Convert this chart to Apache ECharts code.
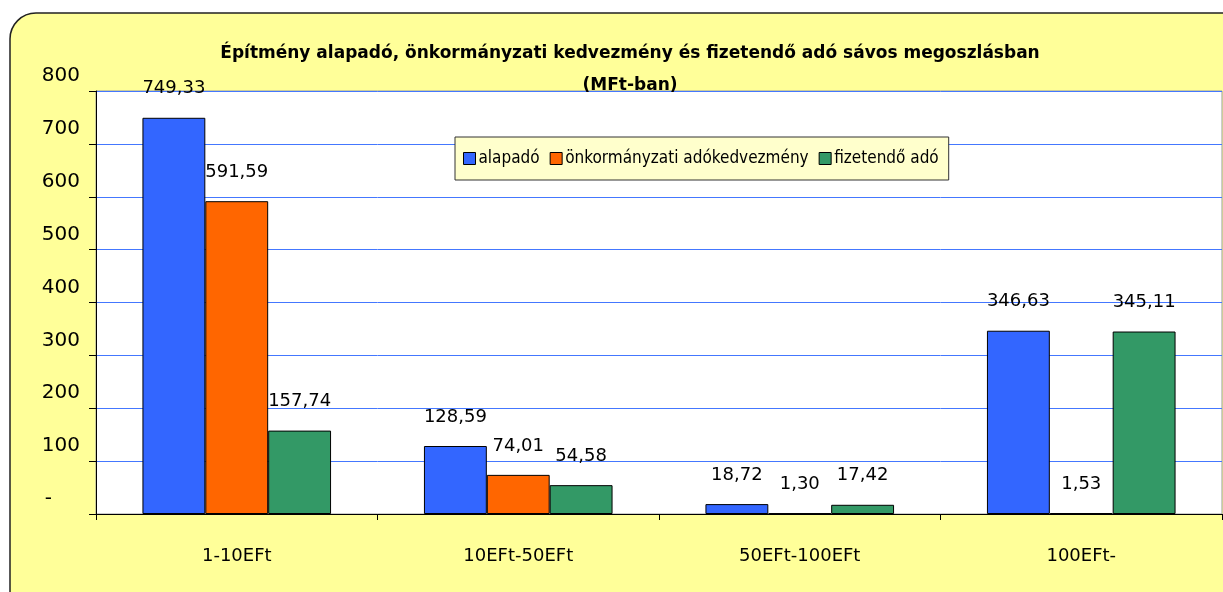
<!DOCTYPE html>
<html>
<head>
<meta charset="utf-8">
<script src="https://cdn.jsdelivr.net/npm/echarts@6/dist/echarts.min.js"></script>
<style>
  html, body { margin: 0; padding: 0; background: #fff; }
  #chart { width: 1223px; height: 592px; }
</style>
</head>
<body>
<div id="chart"></div>
<script>
// adatok
const categories = ["1-10EFt", "10EFt-50EFt", "50EFt-100EFt", "100EFt-"];
const alapado = [749.33, 128.59, 18.72, 346.63];
const kedvezmeny = [591.59, 74.01, 1.30, 1.53];
const fizetendo = [157.74, 54.58, 17.42, 345.11];
const yTicks = [0, 100, 200, 300, 400, 500, 600, 700, 800];

const FONT = "'DejaVu Sans', sans-serif";
const NARROW = "'DejaVu Sans Condensed', 'Liberation Sans Narrow', sans-serif";

const chart = echarts.init(document.getElementById("chart"));

const fmt = (v) => v.toFixed(2).replace(".", ",");

const barSeries = (name, data, color) => ({
  name,
  type: "bar",
  data,
  barGap: "0%",
  barCategoryGap: "33%",
  itemStyle: { color, borderColor: "#000", borderWidth: 1 },
  label: {
    show: true,
    position: "top",
    distance: 20,
    color: "#000",
    fontFamily: FONT,
    fontSize: 18,
    formatter: (p) => fmt(p.value),
  },
});

const options = {
  backgroundColor: "#fff",
  animation: false,
  graphic: [
    {
      type: "rect",
      z: -10,
      shape: { x: 10, y: 13, width: 1240, height: 610, r: 26 },
      style: { fill: "#FFFF99", stroke: "#222", lineWidth: 1.5 },
    },
  ],
  title: {
    text: "Építmény alapadó, önkormányzati kedvezmény és fizetendő adó sávos megoszlásban\n(MFt-ban)",
    left: 625,
    textAlign: "center",
    top: 33,
    textStyle: {
      fontFamily: FONT,
      fontSize: 17,
      fontWeight: "bold",
      color: "#000",
      lineHeight: 32,
    },
  },
  legend: {
    left: 455,
    top: 137,
    orient: "horizontal",
    backgroundColor: "#FFFFCC",
    borderColor: "#333",
    borderWidth: 1,
    padding: [13, 10, 13, 8],
    itemGap: 10,
    itemWidth: 12,
    itemHeight: 12,
    icon: "rect",
    textStyle: { fontFamily: NARROW, fontSize: 17, color: "#000", padding: [0, 0, 0, -2] },
    itemStyle: { borderColor: "#000", borderWidth: 1 },
  },
  grid: {
    left: 96,
    top: 91,
    right: 1,
    bottom: 78,
    show: true,
    backgroundColor: "#fff",
    borderColor: "#999",
    borderWidth: 1,
  },
  xAxis: {
    type: "category",
    data: categories,
    axisLine: { lineStyle: { color: "#000", width: 1 } },
    axisTick: { show: true, length: 6, lineStyle: { color: "#000" } },
    axisLabel: { margin: 33, fontFamily: FONT, fontSize: 18, color: "#000" },
  },
  yAxis: {
    type: "value",
    min: yTicks[0],
    max: yTicks[yTicks.length - 1],
    interval: 100,
    axisLine: { show: true, lineStyle: { color: "#000", width: 1 } },
    axisTick: { show: true, length: 7, lineStyle: { color: "#000" } },
    splitLine: { lineStyle: { color: "#4477FF", width: 1 } },
    axisLabel: {
      margin: 16,
      fontFamily: FONT,
      fontSize: 20,
      color: "#000",
      verticalAlign: "bottom",
      padding: [0, 0, 5, 0],
      // Excel-szerű nulla: kötőjel balra tolva
      formatter: (v) => (v === 0 ? "-{sp|}" : String(v)),
      rich: { sp: { width: 28 } },
    },
  },
  series: [
    barSeries("alapadó", alapado, "#3366FF"),
    barSeries("önkormányzati adókedvezmény", kedvezmeny, "#FF6600"),
    barSeries("fizetendő adó", fizetendo, "#339966"),
  ],
};

chart.setOption(options);
</script>
</body>
</html>
